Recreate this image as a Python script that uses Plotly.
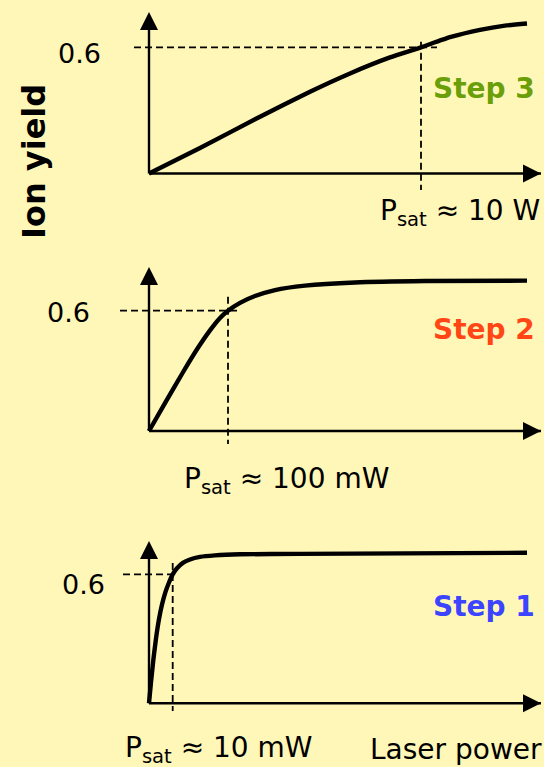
import plotly.graph_objects as go

W, H = 544, 767

# Ion yield versus laser power for the three excitation steps
step3_power_W = [0, 1.875, 4.081, 5.919, 7.390, 8.860, 10.0, 11.066, 12.169, 13.088, 13.897]
step3_yield = [0, 0.121, 0.270, 0.389, 0.476, 0.552, 0.600, 0.648, 0.683, 0.703, 0.713]

step2_power_mW = [0, 21.5, 43.0, 62.0, 77.2, 89.9, 100, 115.2, 134.2, 159.5, 197.5,
                  260.8, 349.4, 478.5]
step2_yield = [0, 0.148, 0.293, 0.415, 0.502, 0.564, 0.600, 0.639, 0.673, 0.703, 0.725,
               0.741, 0.748, 0.750]

step1_power_mW = [0, 0.84, 1.90, 2.95, 4.22, 5.49, 6.96, 8.44, 10.0, 11.8, 14.3, 17.3,
                  21.5, 27.8, 38.4, 63.7, 159.5]
step1_yield = [0, 0.098, 0.208, 0.301, 0.391, 0.459, 0.518, 0.562, 0.600, 0.628, 0.653,
               0.669, 0.681, 0.688, 0.693, 0.695, 0.700]

step_names = ["Step 3", "Step 2", "Step 1"]
step_colors = ["#6a9f0a", "#ff4614", "#3c44ff"]
psat_values = [10, 100, 10]
psat_units = ["W", "mW", "mW"]
yield_ref = 0.6
yield_ref_label = "0.6"

BG = "#fff7b8"
FONT = "DejaVu Sans"

# pixel geometry of each panel: origin, pixels per unit, vertical band,
# arrow tip heights, dashed guide extents and text placement
panels = [
    dict(x=step3_power_W, y=step3_yield, ox=149, oy=173.5, kx=27.2, ky=210.3,
         top=0, bottom=250, ytip=12, hx0=134, hx1=437, vy0=41.7, vy1=190,
         lab_r=103, lab_y=53, step_y=89, ps_left=378, ps_y=212),
    dict(x=step2_power_mW, y=step2_yield, ox=149, oy=431, kx=0.79, ky=200.5,
         top=250, bottom=515, ytip=267, hx0=120, hx1=240, vy0=296.7, vy1=444,
         lab_r=92, lab_y=312.5, step_y=330, ps_left=182, ps_y=480),
    dict(x=step1_power_mW, y=step1_yield, ox=149, oy=703.3, kx=2.37, ky=215,
         top=515, bottom=767, ytip=541, hx0=123, hx1=175, vy0=563, vy1=711,
         lab_r=107, lab_y=584, step_y=606, ps_left=123, ps_y=749),
]
X_TIP = 541
ARROW_SIZE = 18


def px_to_x(p, px):
    return (px - p["ox"]) / p["kx"]


def py_to_y(p, py):
    return (p["oy"] - py) / p["ky"]


fig = go.Figure()
annotations = []
dash_style = dict(color="black", width=1.8, dash="7px,4px")

for i, p in enumerate(panels):
    n = "" if i == 0 else str(i + 1)
    xa, ya = "x" + n, "y" + n

    # axes: lines from the origin ending in an arrowhead
    fig.add_trace(go.Scatter(
        x=[0, px_to_x(p, X_TIP)], y=[0, 0], xaxis=xa, yaxis=ya,
        mode="lines+markers", line=dict(color="black", width=2.4),
        marker=dict(symbol=["circle", "arrow-right"], size=[0, ARROW_SIZE],
                    color="black", line=dict(width=0), opacity=1),
        hoverinfo="skip", showlegend=False))
    fig.add_trace(go.Scatter(
        x=[0, 0], y=[0, py_to_y(p, p["ytip"])], xaxis=xa, yaxis=ya,
        mode="lines+markers", line=dict(color="black", width=2.4),
        marker=dict(symbol=["circle", "arrow-up"], size=[0, ARROW_SIZE],
                    color="black", line=dict(width=0), opacity=1),
        hoverinfo="skip", showlegend=False))

    # dashed guides at the reference yield and the saturation power
    fig.add_trace(go.Scatter(
        x=[px_to_x(p, p["hx0"]), px_to_x(p, p["hx1"])], y=[yield_ref, yield_ref],
        xaxis=xa, yaxis=ya, mode="lines", line=dash_style,
        hoverinfo="skip", showlegend=False))
    fig.add_trace(go.Scatter(
        x=[psat_values[i], psat_values[i]],
        y=[py_to_y(p, p["vy0"]), py_to_y(p, p["vy1"])],
        xaxis=xa, yaxis=ya, mode="lines", line=dash_style,
        hoverinfo="skip", showlegend=False))

    # saturation curve
    fig.add_trace(go.Scatter(
        x=p["x"], y=p["y"], xaxis=xa, yaxis=ya, mode="lines",
        line=dict(color="black", width=4.4, shape="spline", smoothing=0.5),
        hoverinfo="skip", showlegend=False))

    fig.layout["xaxis" + n] = dict(
        domain=[0, 1], range=[px_to_x(p, 0), px_to_x(p, W)], visible=False,
        fixedrange=True, anchor=ya)
    fig.layout["yaxis" + n] = dict(
        domain=[1 - p["bottom"] / H, 1 - p["top"] / H],
        range=[py_to_y(p, p["bottom"]), py_to_y(p, p["top"])],
        visible=False, fixedrange=True, anchor=xa)

    # reference yield label
    annotations.append(dict(
        x=p["lab_r"] / W, y=1 - p["lab_y"] / H, xref="paper", yref="paper",
        text=yield_ref_label, showarrow=False, xanchor="right", yanchor="middle",
        font=dict(family=FONT, size=27, color="black")))

    # step name
    annotations.append(dict(
        x=537 / W, y=1 - p["step_y"] / H, xref="paper", yref="paper",
        text="<b>%s</b>" % step_names[i], showarrow=False,
        xanchor="right", yanchor="middle",
        font=dict(family=FONT, size=28, color=step_colors[i])))

    # saturation power label
    annotations.append(dict(
        x=p["ps_left"] / W, y=1 - p["ps_y"] / H, xref="paper", yref="paper",
        text="P<sub>sat</sub> ≈ %g %s" % (psat_values[i], psat_units[i]),
        showarrow=False, xanchor="left", yanchor="middle",
        font=dict(family=FONT, size=28, color="black")))

annotations.append(dict(
    x=1.0, y=1 - 749 / H, xref="paper", yref="paper", text="Laser power",
    showarrow=False, xanchor="right", yanchor="middle",
    font=dict(family=FONT, size=28, color="black")))

annotations.append(dict(
    x=34 / W, y=1 - 162 / H, xref="paper", yref="paper", text="<b>Ion yield</b>",
    showarrow=False, textangle=-90, xanchor="center", yanchor="middle",
    font=dict(family=FONT, size=32, color="black")))

fig.update_layout(
    width=W, height=H, margin=dict(l=0, r=0, t=0, b=0),
    paper_bgcolor=BG, plot_bgcolor=BG, annotations=annotations,
    showlegend=False)

fig.write_html("out.html", config={"displayModeBar": False})
